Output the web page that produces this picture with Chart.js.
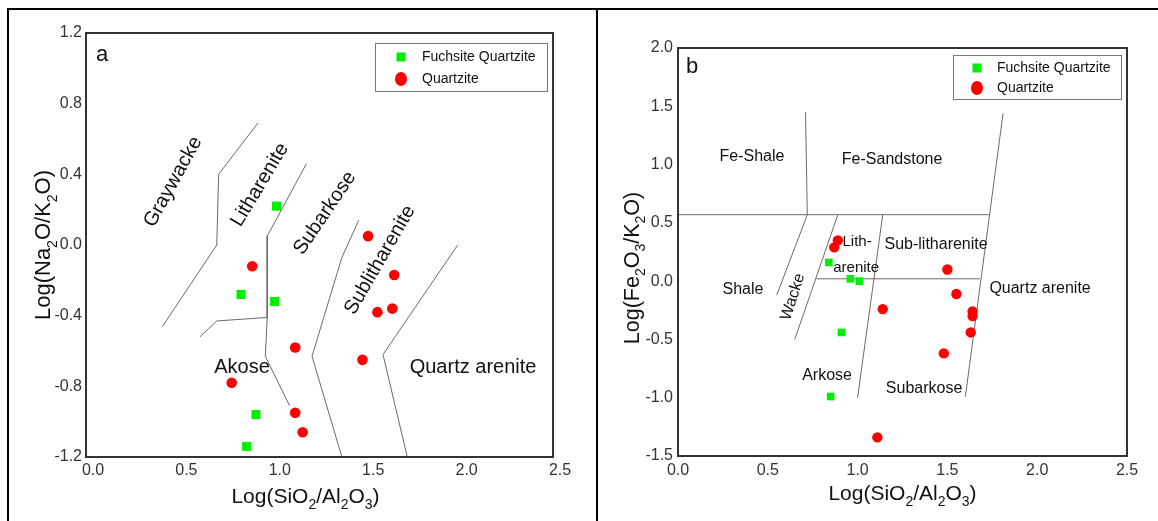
<!DOCTYPE html>
<html>
<head>
<meta charset="utf-8">
<script src="https://cdn.jsdelivr.net/npm/chart.js@4/dist/chart.umd.min.js"></script>
<style>
  body { margin: 0; background: #fff; }
  #wrap { position: relative; width: 1158px; height: 521px; overflow: hidden; }
  .rule { position: absolute; background: #000; }
  canvas { position: absolute; top: 0; }
</style>
</head>
<body>
<div id="wrap">
  <div class="rule" style="left:7px;top:8px;width:1151px;height:2px"></div>
  <div class="rule" style="left:7px;top:8px;width:2px;height:513px"></div>
  <div class="rule" style="left:596px;top:8px;width:2px;height:513px"></div>
  <canvas id="chartA" width="596" height="521" style="left:0"></canvas>
  <canvas id="chartB" width="560" height="521" style="left:598px"></canvas>
</div>
<script>
const FONT = '"Liberation Sans", Arial, sans-serif';
Chart.defaults.font.family = FONT;

// shared x axis : Log(SiO2/Al2O3)
const xTicks = [0, 0.5, 1, 1.5, 2, 2.5];

// panel a : Log(Na2O/K2O)
const yTicksA = [-1.2, -0.8, -0.4, 0, 0.4, 0.8, 1.2];
const fuchsiteA = [[1.02, 0.22], [0.83, -0.28], [1.01, -0.32], [0.91, -0.96], [0.86, -1.14]];
const quartziteA = [[0.89, -0.12], [0.78, -0.78], [1.12, -0.58], [1.12, -0.95], [1.16, -1.06],
                    [1.51, 0.05], [1.65, -0.17], [1.56, -0.38], [1.64, -0.36], [1.48, -0.65]];
// field boundaries (Pettijohn-type diagram)
const fieldsA = [
  [[0.92, 0.69], [0.71, 0.40], [0.70, 0.0], [0.41, -0.46]],
  [[1.18, 0.46], [0.97, 0.05], [0.97, -0.41], [0.96, -0.63], [1.09, -0.91]],
  [[0.61, -0.52], [0.70, -0.43], [0.97, -0.41]],
  [[1.46, 0.14], [1.37, -0.07], [1.21, -0.63], [1.37, -1.2]],
  [[1.99, 0.0], [1.59, -0.62], [1.72, -1.2]]
];

// panel b : Log(Fe2O3/K2O)
const yTicksB = [-1.5, -1, -0.5, 0, 0.5, 1, 1.5, 2];
const fuchsiteB = [[0.84, 0.16], [0.96, 0.02], [1.01, 0.0], [0.91, -0.44], [0.85, -0.99]];
const quartziteB = [[0.89, 0.35], [0.87, 0.29], [1.14, -0.24], [1.11, -1.34], [1.50, 0.10],
                    [1.55, -0.11], [1.64, -0.26], [1.64, -0.30], [1.63, -0.44], [1.48, -0.62]];
// field boundaries (Herron diagram)
const fieldsB = [
  [[0, 0.57], [1.73, 0.57]],
  [[0.71, 1.45], [0.72, 0.57]],
  [[1.81, 1.44], [1.60, -0.99]],
  [[0.72, 0.57], [0.55, -0.12]],
  [[0.89, 0.57], [0.65, -0.50]],
  [[0.77, 0.02], [1.68, 0.02]],
  [[1.14, 0.57], [1.00, -1.0]]
];

const GREEN = '#00ee00', RED = '#ff0000', LINE = '#6a6a6a';

const labelsA = [
  { t: 'a', x: 0.086, y: 1.075, s: 22 },
  { t: 'Graywacke', x: 0.466, y: 0.357, r: -61 },
  { t: 'Litharenite', x: 0.931, y: 0.34, r: -59 },
  { t: 'Subarkose', x: 1.279, y: 0.181, r: -56 },
  { t: 'Sublitharenite', x: 1.574, y: -0.085, r: -60 },
  { t: 'Akose', x: 0.835, y: -0.696 },
  { t: 'Quartz arenite', x: 2.072, y: -0.696 }
];
const labelsB = [
  { t: 'b', x: 0.078, y: 1.837, s: 22 },
  { t: 'Fe-Shale', x: 0.412, y: 1.065 },
  { t: 'Fe-Sandstone', x: 1.192, y: 1.04 },
  { t: 'Shale', x: 0.362, y: -0.075 },
  { t: 'Wacke', x: 0.64, y: -0.135, r: -72 },
  { t: 'Lith-', x: 0.997, y: 0.336, s: 15 },
  { t: 'arenite', x: 0.992, y: 0.117, s: 15 },
  { t: 'Sub-litharenite', x: 1.437, y: 0.31 },
  { t: 'Quartz arenite', x: 2.016, y: -0.067 },
  { t: 'Arkose', x: 0.83, y: -0.813 },
  { t: 'Subarkose', x: 1.37, y: -0.925 }
];

const fmt = v => Math.abs(v) < 1e-9 ? '0.0' : v.toFixed(1);
const toXY = pts => pts.map(([x, y]) => ({ x, y }));

// text with subscript digits written as _2
function drawRich(ctx, text, cx, cy, rot, size) {
  const parts = text.split(/_(\d)/);
  const big = `${size}px ${FONT}`, small = `${Math.round(size * 0.65)}px ${FONT}`;
  ctx.save();
  ctx.translate(cx, cy);
  ctx.rotate(rot * Math.PI / 180);
  ctx.fillStyle = '#111';
  ctx.textAlign = 'left';
  ctx.textBaseline = 'alphabetic';
  let w = 0;
  parts.forEach((p, i) => { ctx.font = i % 2 ? small : big; w += ctx.measureText(p).width; });
  let x = -w / 2;
  parts.forEach((p, i) => {
    ctx.font = i % 2 ? small : big;
    ctx.fillText(p, x, i % 2 ? size * 0.3 : 0);
    x += ctx.measureText(p).width;
  });
  ctx.restore();
}

const diagramExtras = {
  id: 'diagramExtras',
  afterDraw(chart, args, o) {
    const { ctx, chartArea: ca, scales } = chart;
    // plot frame
    ctx.save();
    ctx.strokeStyle = '#333';
    ctx.lineWidth = 2;
    ctx.strokeRect(ca.left, ca.top, ca.right - ca.left, ca.bottom - ca.top);
    ctx.restore();

    // field names
    o.labels.forEach(l => {
      ctx.save();
      ctx.translate(scales.x.getPixelForValue(l.x), scales.y.getPixelForValue(l.y));
      ctx.rotate((l.r || 0) * Math.PI / 180);
      ctx.font = `${l.s || o.labelSize}px ${FONT}`;
      ctx.fillStyle = '#111';
      ctx.textAlign = 'center';
      ctx.textBaseline = 'middle';
      ctx.fillText(l.t, 0, 0);
      ctx.restore();
    });

    // axis titles
    const cxm = (ca.left + ca.right) / 2, cym = (ca.top + ca.bottom) / 2;
    drawRich(ctx, o.xTitle, cxm + o.xTitleDx, ca.bottom + o.xTitleDy, 0, 21);
    drawRich(ctx, o.yTitle, ca.left + o.yTitleDx, cym + o.yTitleDy, -90, o.yTitleSize);

    // inset legend
    const L = o.legend;
    const x0 = ca.right - L.right - L.width, y0 = ca.top + L.top;
    ctx.save();
    ctx.fillStyle = '#fff';
    ctx.fillRect(x0, y0, L.width, L.height);
    ctx.strokeStyle = '#777';
    ctx.lineWidth = 1;
    ctx.strokeRect(x0 + 0.5, y0 + 0.5, L.width, L.height);
    ctx.font = `14px ${FONT}`;
    ctx.textAlign = 'left';
    ctx.textBaseline = 'middle';
    chart.data.datasets.filter(d => !d.showLine).forEach((d, i) => {
      const my = y0 + L.rows[i], mx = x0 + L.markX;
      ctx.fillStyle = d.pointBackgroundColor;
      if (d.pointStyle === 'rect') ctx.fillRect(mx - 4.5, my - 4.5, 9, 9);
      else { ctx.beginPath(); ctx.ellipse(mx, my, 6, 7, 0, 0, Math.PI * 2); ctx.fill(); }
      ctx.fillStyle = '#111';
      ctx.fillText(d.label, x0 + L.textX, my);
    });
    ctx.restore();
  }
};

function makeDiagram(id, cfg) {
  const datasets = [
    { label: 'Fuchsite Quartzite', data: toXY(cfg.fuchsite), pointStyle: 'rect',
      pointRadius: cfg.sqR, pointBackgroundColor: GREEN, pointBorderWidth: 0 },
    { label: 'Quartzite', data: toXY(cfg.quartzite), pointStyle: 'circle',
      pointRadius: cfg.dotR, pointBackgroundColor: RED, pointBorderWidth: 0 },
    ...cfg.fields.map(f => ({ data: toXY(f), showLine: true, pointRadius: 0,
      borderColor: LINE, borderWidth: 1, fill: false, tension: 0 }))
  ];
  return new Chart(document.getElementById(id), {
    type: 'scatter',
    data: { datasets },
    plugins: [diagramExtras],
    options: {
      responsive: false,
      animation: false,
      events: [],
      layout: { padding: cfg.padding },
      scales: {
        x: {
          type: 'linear', min: 0, max: 2.5,
          afterBuildTicks: s => { s.ticks = xTicks.map(v => ({ value: v })); },
          afterFit: s => { s.height = cfg.xHeight; },
          grid: { display: false, drawTicks: false },
          border: { display: false },
          ticks: { font: { size: 16 }, color: '#333', padding: cfg.xPad, labelOffset: cfg.xLabelOffset,
                   maxRotation: 0, autoSkip: false, callback: v => fmt(v) }
        },
        y: {
          type: 'linear', min: cfg.yTicks[0], max: cfg.yTicks[cfg.yTicks.length - 1],
          afterBuildTicks: s => { s.ticks = cfg.yTicks.map(v => ({ value: v })); },
          afterFit: s => { s.width = cfg.yWidth; },
          grid: { display: false, drawTicks: false },
          border: { display: false },
          ticks: { font: { size: 16 }, color: '#333', padding: cfg.yPad, autoSkip: false,
                   callback: v => fmt(v) }
        }
      },
      plugins: {
        legend: { display: false },
        tooltip: { enabled: false },
        diagramExtras: cfg.extras
      }
    }
  });
}

makeDiagram('chartA', {
  fuchsite: fuchsiteA, quartzite: quartziteA, fields: fieldsA, yTicks: yTicksA,
  sqR: 6.4, dotR: 5.3,
  padding: { left: 0, top: 33, right: 43, bottom: 0 },
  xHeight: 64, yWidth: 86, xPad: 4, yPad: 4, xLabelOffset: 7,
  extras: {
    labels: labelsA, labelSize: 20,
    xTitle: 'Log(SiO_2/Al_2O_3)', xTitleDx: -14, xTitleDy: 46,
    yTitle: 'Log(Na_2O/K_2O)', yTitleDx: -36, yTitleDy: 0, yTitleSize: 22,
    legend: { right: 6, top: 10, width: 172, height: 48, markX: 26, textX: 47, rows: [14, 36] }
  }
});

makeDiagram('chartB', {
  fuchsite: fuchsiteB, quartzite: quartziteB, fields: fieldsB, yTicks: yTicksB,
  sqR: 5.4, dotR: 5.2,
  padding: { left: 0, top: 48, right: 31, bottom: 0 },
  xHeight: 65, yWidth: 80, xPad: 5, yPad: 5, xLabelOffset: 0,
  extras: {
    labels: labelsB, labelSize: 16,
    xTitle: 'Log(SiO_2/Al_2O_3)', xTitleDx: 0, xTitleDy: 44,
    yTitle: 'Log(Fe_2O_3/K_2O)', yTitleDx: -39, yTitleDy: 16, yTitleSize: 21.5,
    legend: { right: 6, top: 7, width: 168, height: 44, markX: 24, textX: 44, rows: [13, 33] }
  }
});
</script>
</body>
</html>
